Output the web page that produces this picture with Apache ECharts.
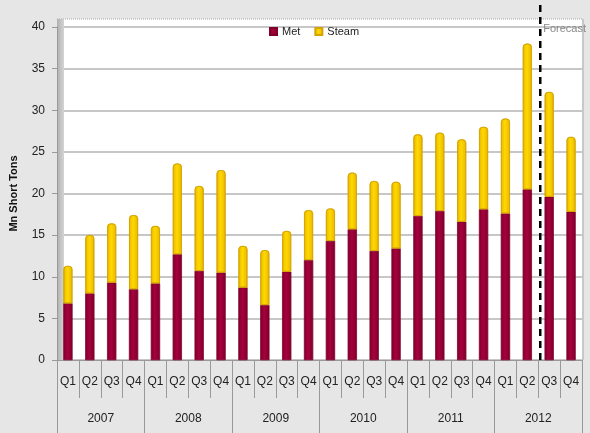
<!DOCTYPE html>
<html lang="en">
<head>
    <meta charset="UTF-8">
    <title>Met / Steam</title>
    <script src="https://cdn.jsdelivr.net/npm/echarts@6/dist/echarts.min.js"></script>
    <style>
        html, body { margin: 0; padding: 0; background: #e6e6e6; }
        #chart { width: 590px; height: 433px; }
    </style>
</head>
<body>
<div id="chart"></div>
<script>
    var quarters = ['Q1','Q2','Q3','Q4','Q1','Q2','Q3','Q4','Q1','Q2','Q3','Q4',
                    'Q1','Q2','Q3','Q4','Q1','Q2','Q3','Q4','Q1','Q2','Q3','Q4'];
    var years = ['2007','2008','2009','2010','2011','2012'];
    var met = [6.8, 8.0, 9.3, 8.5, 9.2, 12.7, 10.7, 10.5, 8.7, 6.6, 10.6, 12.0,
               14.3, 15.7, 13.1, 13.4, 17.3, 17.9, 16.6, 18.1, 17.6, 20.5, 19.6, 17.8];
    var total = [11.3, 15.0, 16.4, 17.4, 16.1, 23.6, 20.9, 22.8, 13.7, 13.2, 15.5, 18.0,
                 18.2, 22.5, 21.5, 21.4, 27.1, 27.3, 26.5, 28.0, 29.0, 38.0, 32.2, 26.8];
    var forecastAt = 22; // boundary between 2012 Q2 and Q3
    var steam = total.map(function (t, i) { return +(t - met[i]).toFixed(1); });

    var font = "'Liberation Sans Narrow', 'Liberation Sans', sans-serif";

    function barGrad(dark, mid) {
        return new echarts.graphic.LinearGradient(0, 0, 1, 0, [
            { offset: 0, color: dark },
            { offset: 0.45, color: mid },
            { offset: 1, color: dark }
        ]);
    }

    var chart = echarts.init(document.getElementById('chart'));

    chart.setOption({
        backgroundColor: '#e6e6e6',
        animation: false,
        textStyle: { fontFamily: font },
        legend: {
            top: 21,
            left: 264,
            itemWidth: 7,
            itemHeight: 7,
            itemGap: 14,
            icon: 'rect',
            textStyle: { fontSize: 11, color: '#222', fontFamily: font },
            data: ['Met', 'Steam']
        },
        grid: {
            left: 53, right: 8, top: 27, bottom: 73,
            show: true, backgroundColor: '#fff', borderWidth: 0
        },
        xAxis: [{
            type: 'category',
            data: quarters,
            position: 'bottom',
            axisLine: { show: true, lineStyle: { color: '#999' } },
            axisTick: { show: true, interval: 0, length: 38, lineStyle: { color: '#999' } },
            axisLabel: { interval: 0, margin: 16, fontSize: 12, color: '#222', fontFamily: font }
        }, {
            type: 'category',
            data: years,
            position: 'bottom',
            axisLine: { show: false },
            axisTick: { show: true, interval: 0, length: 75, lineStyle: { color: '#999' } },
            axisLabel: { interval: 0, margin: 53, fontSize: 12, color: '#222', fontFamily: font }
        }, {
            type: 'value', min: 0, max: quarters.length, show: false
        }],
        yAxis: {
            type: 'value',
            min: 0, max: 40, interval: 5,
            name: 'Mn Short Tons',
            nameLocation: 'middle',
            nameGap: 38,
            nameTextStyle: { fontSize: 11, fontWeight: 'bold', color: '#111', fontFamily: "'Liberation Sans', sans-serif" },
            axisLine: { show: true, lineStyle: { color: '#999' } },
            axisTick: { show: true, length: 5, lineStyle: { color: '#999' } },
            axisLabel: { fontSize: 12, color: '#222', margin: 12, fontFamily: font },
            splitLine: { lineStyle: { color: '#b4b4b4', width: 1.5 } }
        },
        series: [{
            name: 'Met',
            type: 'bar',
            stack: 'coal',
            barWidth: 9,
            data: met,
            itemStyle: { color: barGrad('#7c0029', '#a8003f'), borderColor: '#80002b', borderWidth: 0.5 }
        }, {
            name: 'Steam',
            type: 'bar',
            stack: 'coal',
            barWidth: 9,
            data: steam,
            itemStyle: { color: barGrad('#e8b800', '#ffd800'), borderColor: '#d4a400', borderWidth: 0.8, borderRadius: [3, 3, 0, 0] }
        }]
    });

    // forecast divider and 3D-ish walls, placed from the axes' own scales
    var p0 = chart.convertToPixel({ xAxisIndex: 2, yAxisIndex: 0 }, [0, 0]);
    var pTop = chart.convertToPixel({ xAxisIndex: 2, yAxisIndex: 0 }, [quarters.length, 40]);
    var pF = chart.convertToPixel({ xAxisIndex: 2, yAxisIndex: 0 }, [forecastAt, 0]);

    chart.setOption({
        graphic: [{
            type: 'rect', z: -1, silent: true,
            shape: { x: p0[0], y: pTop[1] - 8, width: pTop[0] - p0[0], height: 8 },
            style: { fill: '#fff' }
        }, {
            type: 'line', silent: true,
            shape: { x1: p0[0], y1: pTop[1] - 8, x2: pTop[0], y2: pTop[1] - 8 },
            style: { stroke: '#aaa', lineWidth: 1, lineDash: [1, 1] }
        }, {
            type: 'rect', silent: true,
            shape: { x: p0[0], y: pTop[1] - 8, width: 7, height: p0[1] - pTop[1] + 8 },
            style: {
                fill: new echarts.graphic.LinearGradient(0, 0, 1, 0, [
                    { offset: 0, color: '#b0b0b0' }, { offset: 1, color: '#d4d4d4' }
                ])
            }
        }, {
            type: 'rect', silent: true, z: -1,
            shape: { x: p0[0], y: p0[1] - 5, width: pTop[0] - p0[0], height: 5 },
            style: { fill: '#dcdcdc' }
        }, {
            type: 'line', silent: true,
            shape: { x1: pTop[0] + 1, y1: pTop[1] - 8, x2: pTop[0] + 1, y2: p0[1] },
            style: { stroke: '#c8c8c8', lineWidth: 2 }
        }, {
            type: 'line', silent: true, z: 100,
            shape: { x1: pF[0] + 2, y1: 5, x2: pF[0] + 2, y2: p0[1] },
            style: { stroke: '#000', lineWidth: 2.5, lineDash: [7, 5] }
        }, {
            type: 'text', silent: true, z: 100,
            x: pF[0] + 5, y: pTop[1] - 4,
            style: { text: 'Forecast', fontSize: 11, fill: '#888', fontFamily: font }
        }]
    });
</script>
</body>
</html>
